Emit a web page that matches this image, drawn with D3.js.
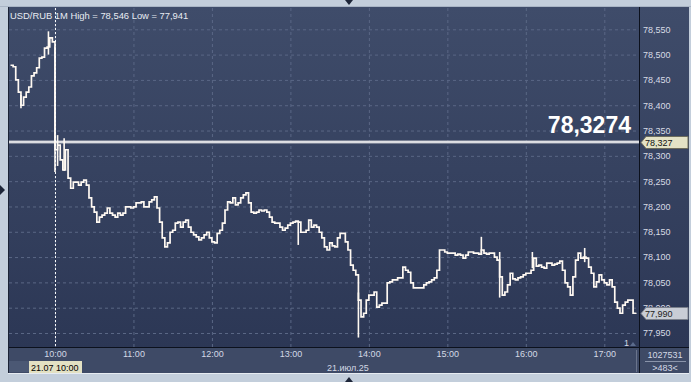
<!DOCTYPE html>
<html>
<head>
<meta charset="utf-8">
<title>USD/RUB 1M</title>
<style>
  body { margin: 0; background: #c3cedb; }
  svg { display: block; font-family: "Liberation Sans", Arial, sans-serif; }
  .grid line { stroke: #5a6785; stroke-dasharray: 3,3; }
  .grid .domain { display: none; }
  .yaxis text { fill: #d7dbe5; font-size: 9px; }
  .xaxis text { fill: #d3d9e5; font-size: 9px; }
  .yaxis .domain, .xaxis .domain { display: none; }
</style>
<script src="https://d3js.org/d3.v7.min.js"></script>
</head>
<body>
<svg width="691" height="382"></svg>
<script>
// 2-minute closes, from 09:26 to 17:24
var startTime = "09:26";
var stepMinutes = 2;
var closes = [
  78.479, 78.476, 78.450, 78.426, 78.400, 78.416, 78.426, 78.436, 78.458, 78.464,
  78.474, 78.493, 78.495, 78.513, 78.515, 78.533, 78.525, 78.312, 78.321, 78.292,
  78.272, 78.312, 78.256, 78.236, 78.248, 78.248, 78.242, 78.248, 78.252, 78.242,
  78.217, 78.199, 78.189, 78.169, 78.179, 78.183, 78.187, 78.197, 78.187, 78.183,
  78.179, 78.187, 78.183, 78.187, 78.199, 78.199, 78.197, 78.199, 78.207, 78.207,
  78.209, 78.199, 78.199, 78.209, 78.213, 78.219, 78.197, 78.169, 78.138, 78.120,
  78.128, 78.149, 78.153, 78.167, 78.169, 78.159, 78.169, 78.173, 78.159, 78.149,
  78.144, 78.140, 78.134, 78.138, 78.144, 78.149, 78.138, 78.130, 78.128, 78.147,
  78.153, 78.167, 78.193, 78.209, 78.207, 78.217, 78.203, 78.207, 78.217, 78.223,
  78.227, 78.207, 78.189, 78.187, 78.189, 78.193, 78.191, 78.193, 78.189, 78.179,
  78.169, 78.167, 78.167, 78.159, 78.153, 78.157, 78.163, 78.167, 78.169, 78.171,
  78.169, 78.149, 78.149, 78.153, 78.173, 78.159, 78.163, 78.159, 78.149, 78.138,
  78.120, 78.114, 78.128, 78.122, 78.120, 78.138, 78.147, 78.147, 78.130, 78.114,
  78.084, 78.074, 78.065, 78.015, 77.982, 77.989, 78.015, 78.025, 78.025, 78.031,
  78.001, 78.005, 78.009, 78.009, 78.049, 78.051, 78.055, 78.055, 78.059, 78.059,
  78.080, 78.074, 78.070, 78.049, 78.039, 78.039, 78.039, 78.039, 78.045, 78.049,
  78.051, 78.055, 78.059, 78.074, 78.114, 78.114, 78.110, 78.108, 78.108, 78.108,
  78.104, 78.106, 78.104, 78.098, 78.104, 78.110, 78.110, 78.108, 78.108, 78.106,
  78.114, 78.108, 78.106, 78.108, 78.108, 78.100, 78.094, 78.061, 78.025, 78.031,
  78.045, 78.068, 78.057, 78.055, 78.059, 78.061, 78.065, 78.068, 78.068, 78.074,
  78.098, 78.082, 78.084, 78.080, 78.078, 78.088, 78.088, 78.084, 78.086, 78.088,
  78.092, 78.074, 78.049, 78.041, 78.025, 78.061, 78.094, 78.108, 78.098, 78.100,
  78.098, 78.080, 78.068, 78.041, 78.051, 78.065, 78.055, 78.049, 78.045, 78.055,
  78.041, 78.011, 77.999, 77.989, 78.005, 78.011, 78.015, 78.015, 77.989, 77.990
];

// single minutes with a wider high/low range
var spikeTimes = ["09:34", "09:55", "10:00", "10:02", "10:07", "13:06", "13:52", "15:26", "15:40", "16:05", "16:45"];
var spikeLows  = [78.394, 78.500, 78.268, 78.280, 78.270, 78.124, 77.941, 78.104, 78.020, 78.078, 78.090];
var spikeHighs = [78.420, 78.546, 78.516, 78.341, 78.335, 78.171, 78.030, 78.140, 78.110, 78.110, 78.118];

var priceTicks = [77.95, 78.00, 78.05, 78.10, 78.15, 78.20, 78.25, 78.30, 78.35, 78.40, 78.45, 78.50, 78.55];
var hourTicks = ["10:00", "11:00", "12:00", "13:00", "14:00", "15:00", "16:00", "17:00"];

var symbol = "USD/RUB";
var period = "1M";
var high = 78.546, low = 77.941;
var lastQuote = 78.3274;
var lastClose = 77.990;
var cursorTime = "10:00";
var cursorLabel = "21.07 10:00";
var dateLabel = "21.июл.25";
var volumeLabel = "1027531";
var barsLabel = ">483<";

var svg = d3.select("svg");
var plot = {left: 9, top: 8, right: 639, bottom: 347};

function toMin(s) { var p = s.split(":"); return +p[0] * 60 + +p[1]; }
var fmt3 = function(v) { return d3.format(".3f")(v).replace(".", ","); };
var fmt4 = function(v) { return d3.format(".4f")(v).replace(".", ","); };

var x = d3.scaleLinear().domain([toMin("09:25"), toMin("17:25")]).range([9.2, 637]);
var y = d3.scaleLinear().domain([77.95, 78.55]).range([333, 29.3]);

// background gradient
var defs = svg.append("defs");
var grad = defs.append("linearGradient").attr("id", "bg").attr("x1", 0).attr("y1", 0).attr("x2", 0).attr("y2", 1);
grad.append("stop").attr("offset", "0%").attr("stop-color", "#3f4c6a");
grad.append("stop").attr("offset", "100%").attr("stop-color", "#2c3755");

svg.append("rect").attr("x", 0).attr("y", 0).attr("width", 691).attr("height", 382).attr("fill", "#c3cedb");
svg.append("line").attr("x1", 0).attr("x2", 691).attr("y1", 6.5).attr("y2", 6.5).attr("stroke", "#a9b5c5");
svg.append("rect").attr("x", 8).attr("y", 7).attr("width", 681).attr("height", 341).attr("fill", "url(#bg)");
svg.append("rect").attr("x", 8).attr("y", 348).attr("width", 681).attr("height", 25).attr("fill", "#3e4a66");
svg.append("rect").attr("x", 9).attr("y", 361).attr("width", 46).attr("height", 11).attr("fill", "#4b5874");
svg.append("line").attr("x1", 8).attr("x2", 689).attr("y1", 373.5).attr("y2", 373.5).attr("stroke", "#e6ebf1");

// frame arrows
svg.append("path").attr("d", "M345,0 L353,0 L349,5 Z").attr("fill", "#1d2538");
svg.append("path").attr("d", "M345,382 L353,382 L349,377 Z").attr("fill", "#1d2538");
svg.append("path").attr("d", "M0,185 L5,190 L0,195 Z").attr("fill", "#1d2538");

// grid
svg.append("g").attr("class", "grid")
  .attr("transform", "translate(" + plot.left + ",0)")
  .call(d3.axisLeft(y).tickValues(priceTicks).tickSize(-(plot.right - plot.left)).tickFormat(""));
svg.append("g").attr("class", "grid")
  .attr("transform", "translate(0," + plot.top + ")")
  .call(d3.axisTop(x).tickValues(hourTicks.map(toMin)).tickSize(-(plot.bottom - plot.top)).tickFormat(""));

// axes
svg.append("g").attr("class", "yaxis")
  .attr("transform", "translate(" + plot.right + ",0)")
  .call(d3.axisRight(y).tickValues(priceTicks).tickSize(0).tickPadding(4).tickFormat(fmt3));
svg.append("g").attr("class", "xaxis")
  .attr("transform", "translate(0," + plot.bottom + ")")
  .call(d3.axisBottom(x).tickValues(hourTicks.map(toMin)).tickSize(0).tickPadding(4)
    .tickFormat(function(d, i) { return hourTicks[i]; }));

svg.append("line").attr("x1", 639.5).attr("x2", 639.5).attr("y1", 7).attr("y2", 373).attr("stroke", "#0c111d");
svg.append("line").attr("x1", 8).attr("x2", 689).attr("y1", 347.5).attr("y2", 347.5).attr("stroke", "#0c111d");
svg.append("line").attr("x1", 8.5).attr("x2", 8.5).attr("y1", 7).attr("y2", 373).attr("stroke", "#1b2336");
svg.append("line").attr("x1", 636.5).attr("x2", 636.5).attr("y1", 350).attr("y2", 372).attr("stroke", "#6a748c");

// last quote line
svg.append("line").attr("x1", plot.left).attr("x2", plot.right).attr("y1", y(lastQuote)).attr("y2", y(lastQuote))
  .attr("stroke", "#b9bcc4").attr("stroke-width", 3);
svg.append("line").attr("x1", plot.left).attr("x2", plot.right).attr("y1", y(lastQuote)).attr("y2", y(lastQuote))
  .attr("stroke", "#ffffff").attr("stroke-width", 1);

// price series
var t0 = toMin(startTime);
var line = d3.line()
  .x(function(d, i) { return x(t0 + i * stepMinutes); })
  .y(function(d) { return y(d); })
  .curve(d3.curveStepAfter);
svg.append("path").datum(closes).attr("d", line)
  .attr("fill", "none").attr("stroke", "#fff9f2").attr("stroke-width", 1.7);

svg.selectAll(".spike").data(spikeTimes).enter().append("line")
  .attr("class", "spike")
  .attr("x1", function(d) { return x(toMin(d)); })
  .attr("x2", function(d) { return x(toMin(d)); })
  .attr("y1", function(d, i) { return y(spikeLows[i]); })
  .attr("y2", function(d, i) { return y(spikeHighs[i]); })
  .attr("stroke", "#fff9f2").attr("stroke-width", 1.6);

// cursor
svg.append("line").attr("x1", x(toMin(cursorTime)) + 0.5).attr("x2", x(toMin(cursorTime)) + 0.5)
  .attr("y1", plot.top).attr("y2", plot.bottom)
  .attr("stroke", "#ffffff").attr("stroke-dasharray", "2,2");

// title
svg.append("text").attr("x", 10).attr("y", 18.5).attr("fill", "#e8ebf2").attr("font-size", "9.4px")
  .text(symbol + " " + period + " High = " + fmt3(high) + " Low = " + fmt3(low));

// big quote
svg.append("text").attr("x", 631).attr("y", 133).attr("text-anchor", "end")
  .attr("fill", "#ffffff").attr("font-size", "23px").attr("font-weight", "bold")
  .text(fmt4(lastQuote));

// price tags
function tag(v, fill, stroke, color) {
  var yy = Math.round(y(v)) + 0.5;
  svg.append("path")
    .attr("d", "M641," + yy + " L646," + (yy - 6) + " L688," + (yy - 6) + " L688," + (yy + 6) + " L646," + (yy + 6) + " Z")
    .attr("fill", fill).attr("stroke", stroke);
  svg.append("text").attr("x", 645).attr("y", yy + 3.3).attr("fill", color).attr("font-size", "9px").text(fmt3(v));
}
tag(lastQuote, "#e4e2c6", "#6d6c5c", "#111111");
tag(lastClose, "#c9cdd6", "#7a808c", "#222222");

// bottom labels
svg.append("rect").attr("x", 29).attr("y", 361).attr("width", 53).attr("height", 12).attr("fill", "#e3e1c3");
svg.append("text").attr("x", 31).attr("y", 370.5).attr("fill", "#000000").attr("font-size", "9px").text(cursorLabel);
svg.append("text").attr("x", 327).attr("y", 370.5).attr("fill", "#d3d9e5").attr("font-size", "9px").text(dateLabel);

svg.append("text").attr("x", 665).attr("y", 358).attr("text-anchor", "middle").attr("fill", "#d3d9e5").attr("font-size", "9px").text(volumeLabel);
svg.append("line").attr("x1", 645).attr("x2", 686).attr("y1", 361.5).attr("y2", 361.5).attr("stroke", "#8a94aa");
svg.append("text").attr("x", 665).attr("y", 370.5).attr("text-anchor", "middle").attr("fill", "#d3d9e5").attr("font-size", "9px").text(barsLabel);

svg.append("text").attr("x", 624).attr("y", 346).attr("fill", "#d3d9e5").attr("font-size", "9px").text("1");
svg.append("path").attr("d", "M630,346 L636,346 L633,342 Z").attr("fill", "#5b6b8c");
</script>
</body>
</html>
